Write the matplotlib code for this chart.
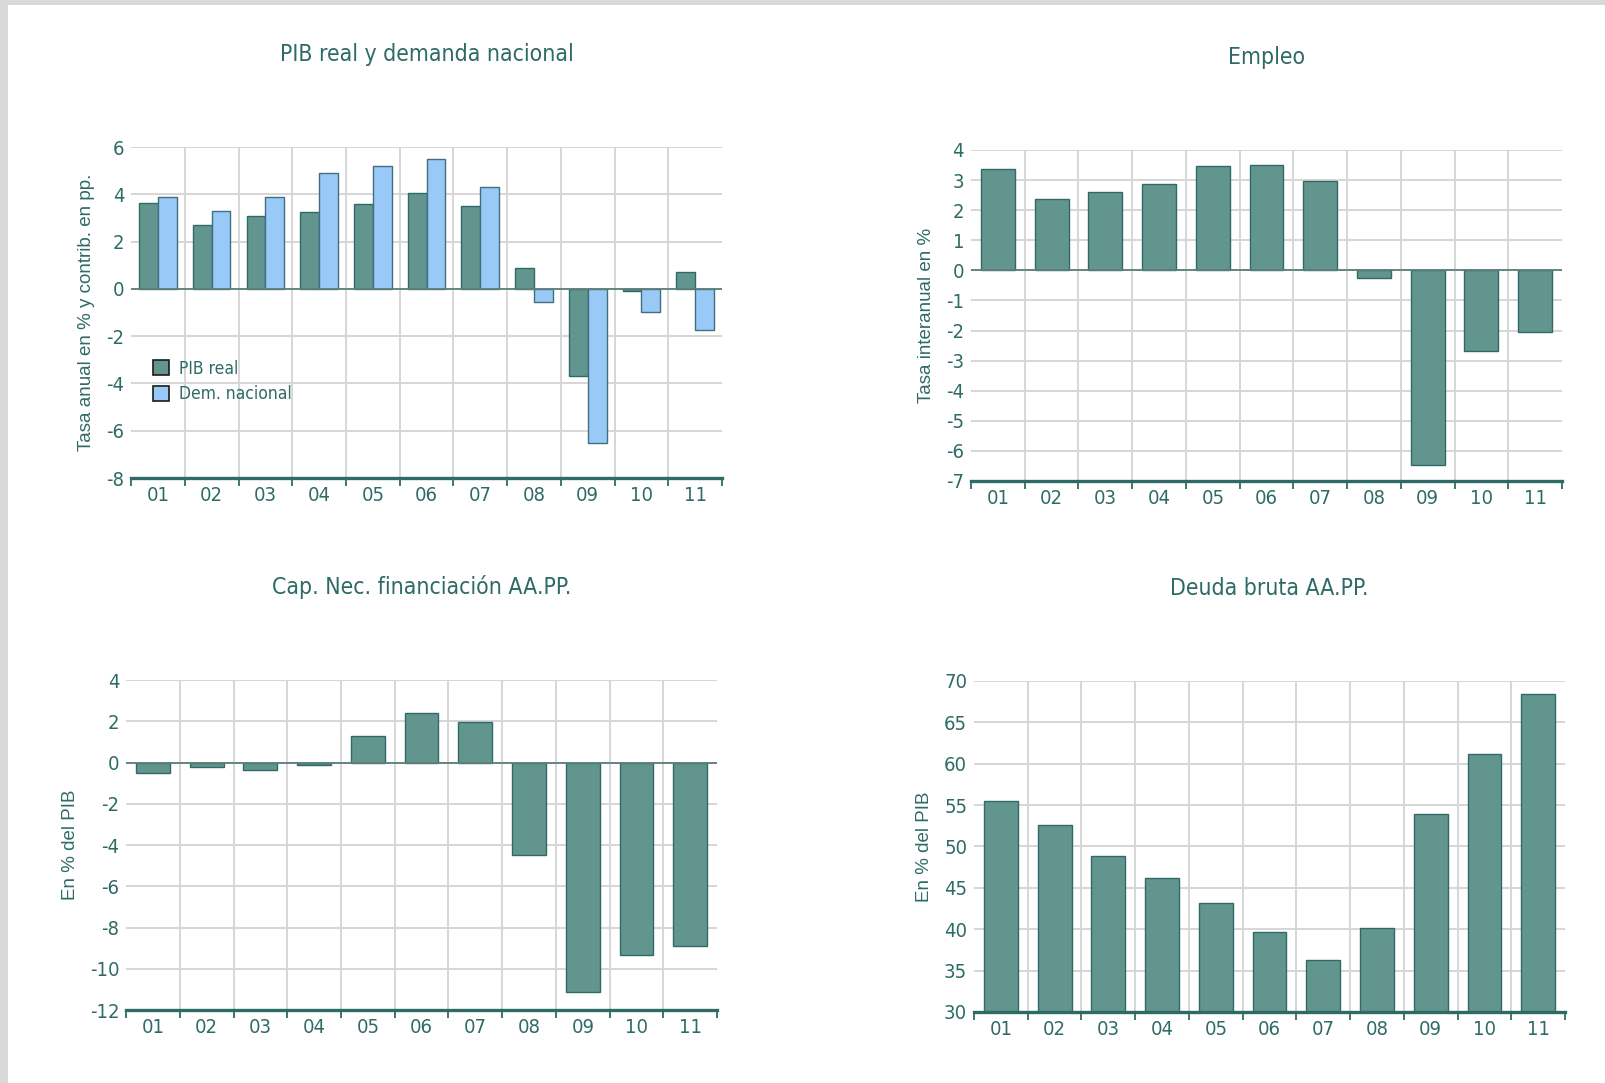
import numpy as np
import matplotlib
matplotlib.use('Agg')
import matplotlib.pyplot as plt
from matplotlib import font_manager
from matplotlib.patches import Rectangle

years = ['01', '02', '03', '04', '05', '06', '07', '08', '09', '10', '11']

pib_real = [3.65, 2.7, 3.1, 3.25, 3.6, 4.05, 3.5, 0.9, -3.7, -0.07, 0.7]
dem_nacional = [3.9, 3.3, 3.9, 4.9, 5.2, 5.5, 4.3, -0.55, -6.5, -0.97, -1.75]
empleo = [3.37, 2.36, 2.59, 2.87, 3.48, 3.5, 2.98, -0.24, -6.48, -2.67, -2.04]
cap_nec = [-0.52, -0.21, -0.35, -0.12, 1.29, 2.38, 1.97, -4.47, -11.15, -9.32, -8.89]
deuda = [55.5, 52.6, 48.8, 46.2, 43.2, 39.7, 36.3, 40.2, 53.9, 61.2, 68.4]

TEAL = '#63958f'
TEAL_EDGE = '#2f6a66'
BLUE = '#99c9f7'
BLUE_EDGE = '#3f6f80'
TEXT = '#2f6b66'
GRID = '#d6d6d6'


def pick_narrow():
    # look for an installed narrow/condensed regular face
    prefs = ['LiberationSansNarrow-Regular', 'DejaVuSansCondensed.ttf', 'RobotoCondensed-Regular',
             'OpenSans_Condensed-Regular', 'NotoSans-Condensed.', 'NotoSans-CondensedRegular',
             'Lato-Regular']
    files = [f.fname for f in font_manager.fontManager.ttflist]
    for p in prefs:
        for f in files:
            if p in f:
                return f
    for f in files:
        low = f.lower()
        if ('narrow' in low or 'condensed' in low) and 'bold' not in low and 'italic' not in low \
                and 'oblique' not in low and 'semi' not in low and 'extra' not in low:
            return f
    return None


narrow_file = pick_narrow()


def nfont(size):
    if narrow_file:
        return font_manager.FontProperties(fname=narrow_file, size=size)
    return font_manager.FontProperties(family='DejaVu Sans', size=size)


wide_font = font_manager.FontProperties(family=['Liberation Sans', 'DejaVu Sans'], size=13.5)

fig = plt.figure(figsize=(16.06, 10.83), dpi=100)
fig.patch.set_facecolor('white')

# gray frame at the top and left edge
fig.patches.append(Rectangle((0, 1 - 5 / 1083), 1, 5 / 1083, transform=fig.transFigure,
                             facecolor='#d9d9d9', edgecolor='none', zorder=0))
fig.patches.append(Rectangle((0, 0), 8 / 1606, 1, transform=fig.transFigure,
                             facecolor='#d9d9d9', edgecolor='none', zorder=0))


def setup_axes(rect, title, ylabel, ylim, yticks, zero_line, ylabel_pad):
    ax = fig.add_axes(rect)
    x = np.arange(len(years))
    ax.set_xlim(-0.5, len(years) - 0.5)
    ax.set_ylim(*ylim)
    for s in ['top', 'right', 'left']:
        ax.spines[s].set_visible(False)
    ax.spines['bottom'].set_color(TEXT)
    ax.spines['bottom'].set_linewidth(2.4)

    # horizontal grid
    ax.set_yticks(yticks)
    ax.set_yticklabels([str(v) for v in yticks], fontproperties=nfont(14.5), color=TEXT)
    ax.tick_params(axis='y', length=0, pad=5)
    for v in yticks:
        if v != ylim[0]:
            ax.axhline(v, color=GRID, lw=1.4, zorder=0)
    # vertical grid between categories
    for b in np.arange(0.5, len(years) - 1, 1.0):
        ax.axvline(b, color=GRID, lw=1.4, zorder=0)
    if zero_line:
        ax.axhline(0, color='#5d7f7c', lw=1.3, zorder=3)

    ax.set_xticks(x)
    ax.set_xticklabels(years, fontproperties=nfont(14.5), color=TEXT)
    ax.set_xticks(np.arange(-0.5, len(years), 1.0), minor=True)
    ax.tick_params(axis='x', which='major', length=0, pad=6)
    ax.tick_params(axis='x', which='minor', length=6, width=1.3, color=TEXT, direction='out')

    ax.set_title(title, fontproperties=nfont(16.5), color=TEXT, pad=62)
    ax.set_ylabel(ylabel, fontproperties=wide_font, color=TEXT, labelpad=ylabel_pad)
    return ax, x


# PIB real y demanda nacional
ax, x = setup_axes([0.0816, 0.5586, 0.368, 0.3056], 'PIB real y demanda nacional',
                   'Tasa anual en % y contrib. en pp.', (-8, 6), [-8, -6, -4, -2, 0, 2, 4, 6],
                   True, 8)
ax.bar(x - 0.175, pib_real, 0.35, color=TEAL, edgecolor=TEAL_EDGE, lw=1, label='PIB real', zorder=2)
ax.bar(x + 0.175, dem_nacional, 0.35, color=BLUE, edgecolor=BLUE_EDGE, lw=1, label='Dem. nacional', zorder=2)
leg = ax.legend(loc='upper left', bbox_to_anchor=(0.01, 0.405), frameon=False,
                prop=nfont(12.5), handlelength=0.95, handleheight=0.95,
                handletextpad=0.55, labelspacing=0.45)
for h in leg.legend_handles:
    h.set_edgecolor('#1a1a1a')
    h.set_linewidth(1.2)
for t in leg.get_texts():
    t.set_color(TEXT)

# Empleo
ax, x = setup_axes([0.6046, 0.5559, 0.368, 0.3056], 'Empleo', 'Tasa interanual en %',
                   (-7, 4), list(range(-7, 5)), True, 8)
ax.bar(x, empleo, 0.63, color=TEAL, edgecolor=TEAL_EDGE, lw=1, zorder=2)

# Cap. Nec. financiacion
ax, x = setup_axes([0.0785, 0.0674, 0.368, 0.3047], 'Cap. Nec. financiación AA.PP.', 'En % del PIB',
                   (-12, 4), list(range(-12, 5, 2)), True, 8)
ax.bar(x, cap_nec, 0.63, color=TEAL, edgecolor=TEAL_EDGE, lw=1, zorder=2)

# Deuda bruta
ax, x = setup_axes([0.6065, 0.0656, 0.368, 0.3056], 'Deuda bruta AA.PP.', 'En % del PIB',
                   (30, 70), list(range(30, 71, 5)), False, 8)
ax.bar(x, deuda, 0.63, color=TEAL, edgecolor=TEAL_EDGE, lw=1, zorder=2)

fig.savefig('out.png', dpi=100, facecolor='white')
